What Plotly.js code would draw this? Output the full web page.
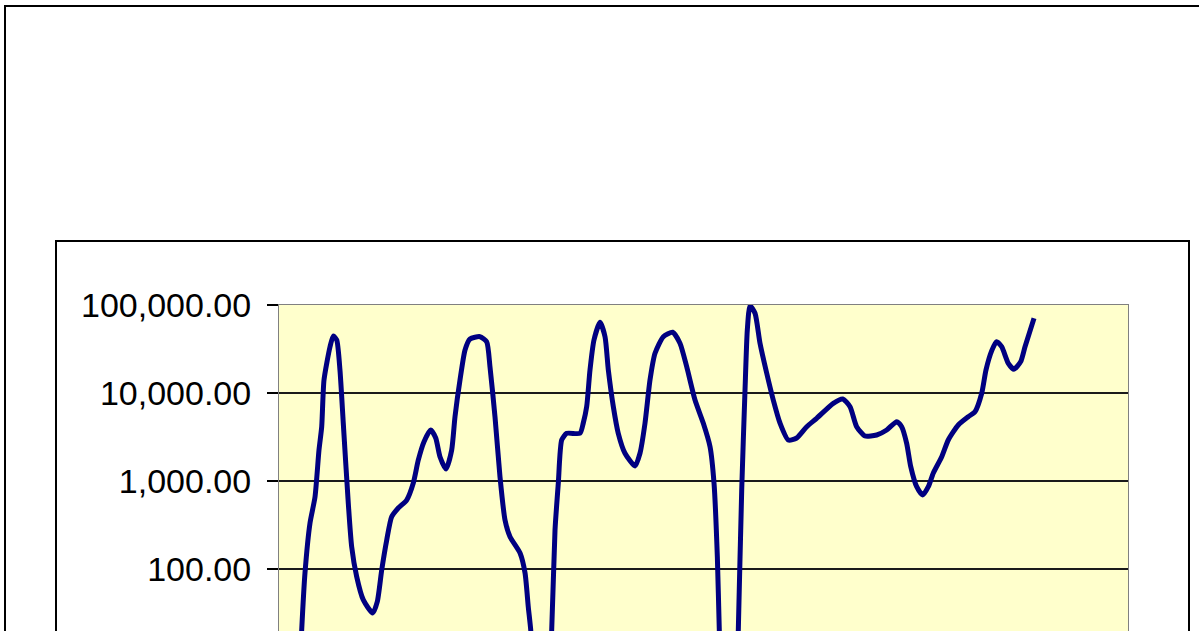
<!DOCTYPE html>
<html>
<head>
<meta charset="utf-8">
<script src="https://cdn.plot.ly/plotly-3.0.1.min.js"></script>
<style>
  html, body { margin: 0; padding: 0; background: #ffffff; overflow: hidden; }
  #clip { position: absolute; left: 0; top: 0; width: 1199px; height: 631px; overflow: hidden; background: #ffffff; }
  .frame { position: absolute; box-sizing: border-box; border: 2px solid #000000; }
  #outer { left: 4px; top: 5px; width: 1400px; height: 1200px; }
  #inner { left: 55px; top: 240px; width: 1135px; height: 1200px; }
  #chart { position: absolute; left: 0; top: 0; width: 1199px; height: 800px; }
</style>
</head>
<body>
<div id="clip">
  <div id="outer" class="frame"></div>
  <div id="inner" class="frame"></div>
  <div id="chart"></div>
</div>
<script>
// Position along the time axis (0-100 scale of the category axis)
const period = [
  2.36, 2.67, 3.06, 3.65, 4.24, 4.71, 5.03, 5.30, 6.01, 6.40,
  6.80, 7.18, 7.57, 8.16, 8.56, 9.15, 9.93, 11.04, 11.58, 12.10,
  12.69, 13.27, 14.05, 15.04, 15.82, 16.41, 17.08, 17.87, 18.46, 18.96,
  19.67, 20.34, 20.73, 21.32, 21.91, 22.50, 23.67, 24.46, 24.85, 25.44,
  26.03, 26.62, 27.21, 28.39, 28.98, 29.36, 29.65, 29.92, 30.86, 31.80,
  32.12, 32.51, 32.90, 33.30, 33.89, 35.45, 35.84, 36.24, 36.63, 37.10,
  37.81, 38.40, 38.79, 39.38, 39.96, 40.75, 41.93, 42.52, 43.11, 43.70,
  44.29, 45.27, 46.37, 47.23, 48.02, 49.00, 49.98, 50.77, 51.24, 51.63,
  51.86, 52.06, 53.00, 53.95, 54.10, 54.50, 54.89, 55.16, 55.48, 56.07,
  56.65, 57.44, 58.22, 59.01, 59.99, 60.98, 62.16, 63.33, 65.29, 66.40,
  67.26, 68.04, 69.02, 70.40, 71.58, 72.76, 73.34, 73.93, 74.41, 75.11,
  75.82, 76.48, 77.07, 78.06, 78.83, 80.01, 81.19, 81.98, 82.77, 83.27,
  83.95, 84.51, 85.12, 85.90, 86.57, 87.36, 87.87, 88.93
];

// Series values (log scale)
const values = [
  4.2, 20, 90, 333, 658, 2250, 4140, 14060, 33570, 44460,
  40000, 18230, 4560, 562, 179, 82, 44.5, 31.6, 42.5, 97.5,
  214, 393, 493, 608, 949, 1734, 2800, 3800, 3080, 1888,
  1369, 2250, 5380, 14060, 30830, 41120, 43650, 38300, 19900, 5380,
  1120, 361, 233, 152, 90, 37.3, 20.3, 7.1, 1.9, 7.1,
  20.3, 277, 949, 2924, 3480, 3480, 4560, 6980, 18230, 40000,
  63560, 43650, 18230, 6980, 3480, 2066, 1480, 2066, 4530, 14060,
  28250, 43650, 48980, 36730, 19900, 8320, 4530, 2455, 942, 138,
  20.3, 5.5, 1.5, 5.5, 20.3, 791, 10810, 52000, 98000, 80500,
  37000, 16870, 8320, 4560, 2924, 3080, 4140, 5160, 7640, 8550,
  6980, 4140, 3243, 3333, 3800, 4720, 4140, 2680, 1454, 861,
  693, 861, 1233, 1888, 2924, 4330, 5380, 6130, 9930, 18230,
  30280, 38300, 33570, 21750, 18580, 22710, 33570, 70630
];

// Y axis tick values and labels (visible part of the axis)
const yTickVals = [100, 1000, 10000, 100000];
const yTickText = ["100.00", "1,000.00", "10,000.00", "100,000.00"];

const trace = {
  x: period,
  y: values,
  type: 'scatter',
  mode: 'lines',
  line: { color: '#000080', width: 5, shape: 'spline', smoothing: 0.6 },
  hoverinfo: 'skip',
  showlegend: false
};

const layout = {
  width: 1199,
  height: 800,
  margin: { l: 279, r: 71, t: 305, b: 55, pad: 0 },
  paper_bgcolor: 'rgba(0,0,0,0)',
  plot_bgcolor: '#FFFFCC',
  showlegend: false,
  font: { family: '"Liberation Sans", Arial, sans-serif', color: '#000000' },
  xaxis: {
    range: [0, 100],
    showgrid: false,
    zeroline: false,
    showticklabels: false,
    ticks: '',
    showline: true,
    mirror: true,
    linecolor: '#808080',
    linewidth: 1
  },
  yaxis: {
    type: 'log',
    range: [0, 5],
    tickvals: yTickVals,
    ticktext: yTickText,
    tickfont: { family: '"Liberation Sans", Arial, sans-serif', size: 34, color: '#000000' },
    ticks: 'outside',
    ticklen: 11,
    tickwidth: 1.5,
    tickcolor: '#000000',
    ticklabelstandoff: 9,
    showgrid: true,
    gridcolor: '#1a1a1a',
    gridwidth: 1.6,
    zeroline: false,
    showline: true,
    mirror: true,
    linecolor: '#808080',
    linewidth: 1
  }
};

Plotly.newPlot('chart', [trace], layout, { displayModeBar: false, staticPlot: true });
</script>
</body>
</html>
